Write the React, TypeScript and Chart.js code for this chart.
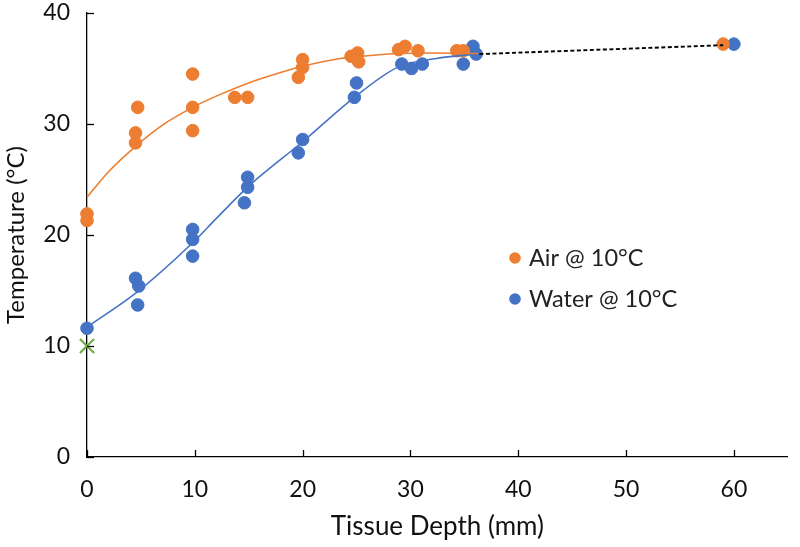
import React, { useEffect, useRef } from "react";
import { Chart, registerables } from "chart.js";

Chart.register(...registerables);

// Measured points
const airX = [0, 0, 4.5, 4.5, 4.7, 9.8, 9.8, 9.8, 13.7, 14.9, 19.6, 20, 20, 24.5, 25.1, 25.2, 28.9, 29.5, 30.7, 34.3, 34.9, 59];
const airY = [21.9, 21.3, 29.2, 28.3, 31.5, 34.5, 31.5, 29.4, 32.4, 32.4, 34.2, 35.8, 35.1, 36.1, 36.4, 35.6, 36.7, 37.0, 36.6, 36.6, 36.6, 37.2];

const waterX = [0, 4.5, 4.8, 4.7, 9.8, 9.8, 9.8, 14.9, 14.9, 14.6, 19.6, 20, 24.8, 25, 29.2, 30.1, 31.1, 34.9, 35.8, 36.1, 60];
const waterY = [11.6, 16.1, 15.4, 13.7, 20.5, 19.6, 18.1, 25.2, 24.3, 22.9, 27.4, 28.6, 32.4, 33.7, 35.4, 35.0, 35.4, 35.4, 37.0, 36.3, 37.2];

// Trend lines
const airFitX = [0, 2, 4.4, 7, 9.8, 12.2, 15, 17.5, 20, 23.5, 26, 29, 32, 36.3];
const airFitY = [23.4, 25.7, 27.9, 29.9, 31.5, 32.6, 33.7, 34.5, 35.2, 35.9, 36.15, 36.35, 36.4, 36.35];

const waterFitX = [0, 4.7, 9.8, 12, 15, 20, 24.8, 28.8, 32.4, 36.2];
const waterFitY = [11.7, 14.9, 19.3, 21.5, 24.4, 28.4, 32.4, 35.1, 35.9, 36.3];

const extX = [36.4, 59];
const extY = [36.3, 37.1];

const markerX = [0];
const markerY = [10];

const xTicks = [0, 10, 20, 30, 40, 50, 60];
const yTicks = [0, 10, 20, 30, 40];

const legendLabels = ["Air @ 10°C", "Water @ 10°C"];

const ORANGE = "#ED7D31";
const BLUE = "#4472C4";
const GREEN = "#70AD47";
const FONT = "Lato, 'Open Sans', sans-serif";

const pts = (xs: number[], ys: number[]) => xs.map((x, i) => ({ x, y: ys[i] }));

const innerTicks = {
  id: "innerTicks",
  afterDatasetsDraw(chart: any) {
    const ctx = chart.ctx;
    const xs = chart.scales.x;
    const ys = chart.scales.y;
    const area = chart.chartArea;
    ctx.save();
    ctx.strokeStyle = "#000";
    ctx.lineWidth = 1.3;
    xTicks.forEach((v) => {
      const px = Math.round(xs.getPixelForValue(v)) + 0.5;
      ctx.beginPath();
      ctx.moveTo(px, area.bottom);
      ctx.lineTo(px, area.bottom - 7);
      ctx.stroke();
    });
    yTicks.forEach((v) => {
      const py = Math.round(ys.getPixelForValue(v)) + 0.5;
      ctx.beginPath();
      ctx.moveTo(area.left, py);
      ctx.lineTo(area.left + 7, py);
      ctx.stroke();
    });
    ctx.restore();
  },
};

const customLegend = {
  id: "customLegend",
  afterDraw(chart: any) {
    const ctx = chart.ctx;
    const items = [
      { label: legendLabels[0], color: ORANGE, y: 258 },
      { label: legendLabels[1], color: BLUE, y: 299 },
    ];
    ctx.save();
    items.forEach((it) => {
      ctx.fillStyle = it.color;
      ctx.beginPath();
      ctx.arc(515, it.y, 5.8, 0, Math.PI * 2);
      ctx.fill();
      ctx.fillStyle = "#222";
      ctx.font = `23.5px ${FONT}`;
      ctx.textBaseline = "middle";
      ctx.textAlign = "left";
      ctx.fillText(it.label, 529, it.y);
    });
    ctx.restore();
  },
};

export default function App() {
  const ref = useRef<HTMLCanvasElement | null>(null);

  useEffect(() => {
    document.body.style.margin = "0";
    if (!ref.current) return;
    const chart = new Chart(ref.current, {
      type: "scatter",
      data: {
        datasets: [
          {
            label: "Air fit",
            data: pts(airFitX, airFitY),
            showLine: true,
            borderColor: ORANGE,
            borderWidth: 1.6,
            pointRadius: 0,
            cubicInterpolationMode: "monotone",
            clip: false,
            order: 1,
          } as any,
          {
            label: "Water fit",
            data: pts(waterFitX, waterFitY),
            showLine: true,
            borderColor: BLUE,
            borderWidth: 1.6,
            pointRadius: 0,
            cubicInterpolationMode: "monotone",
            clip: false,
            order: 1,
          } as any,
          {
            label: "Extension",
            data: pts(extX, extY),
            showLine: true,
            borderColor: "#000",
            borderWidth: 1.9,
            borderDash: [4, 2.5],
            pointRadius: 0,
            clip: false,
            order: 1,
          } as any,
          {
            label: legendLabels[0],
            data: pts(airX, airY),
            backgroundColor: ORANGE,
            borderColor: ORANGE,
            borderWidth: 1,
            pointRadius: 6.3,
            clip: false,
            order: 2,
          } as any,
          {
            label: legendLabels[1],
            data: pts(waterX, waterY),
            backgroundColor: BLUE,
            borderColor: BLUE,
            borderWidth: 1,
            pointRadius: 6.3,
            clip: false,
            order: 2,
          } as any,
          {
            label: "Ambient",
            data: pts(markerX, markerY),
            pointStyle: "crossRot",
            borderColor: GREEN,
            backgroundColor: GREEN,
            borderWidth: 2.2,
            pointRadius: 10,
            clip: false,
            order: 0,
          } as any,
        ],
      },
      options: {
        animation: false,
        responsive: false,
        maintainAspectRatio: false,
        layout: { padding: { top: 13, right: 5, left: 0, bottom: 0 } },
        plugins: {
          legend: { display: false },
          tooltip: { enabled: false },
        },
        scales: {
          x: {
            type: "linear",
            min: 0,
            max: 65,
            grid: { display: false },
            border: { display: true, color: "#000", width: 1.3 },
            ticks: {
              stepSize: 10,
              includeBounds: false,
              color: "#111",
              font: { family: FONT, size: 23 },
              padding: 11,
            },
            title: {
              display: true,
              text: "Tissue Depth (mm)",
              color: "#111",
              font: { family: FONT, size: 26 },
              padding: { top: 0, bottom: 5 },
            },
            afterFit: (s: any) => {
              s.height = 90;
              s.paddingLeft = 0;
              s.paddingRight = 0;
            },
          },
          y: {
            type: "linear",
            min: 0,
            max: 40,
            grid: { display: false },
            border: { display: true, color: "#000", width: 1.3 },
            ticks: {
              stepSize: 10,
              color: "#111",
              font: { family: FONT, size: 23 },
              padding: 9,
            },
            title: {
              display: true,
              text: "Temperature (°C)",
              color: "#111",
              font: { family: FONT, size: 24 },
              padding: { top: 2, bottom: 0 },
            },
            afterFit: (s: any) => {
              s.width = 87;
              s.paddingTop = 0;
              s.paddingBottom = 0;
            },
          },
        },
      },
      plugins: [innerTicks, customLegend],
    });
    return () => chart.destroy();
  }, []);

  return (
    <div style={{ width: 800, height: 547, background: "#fff" }}>
      <canvas ref={ref} width={800} height={547} style={{ display: "block" }} />
    </div>
  );
}
